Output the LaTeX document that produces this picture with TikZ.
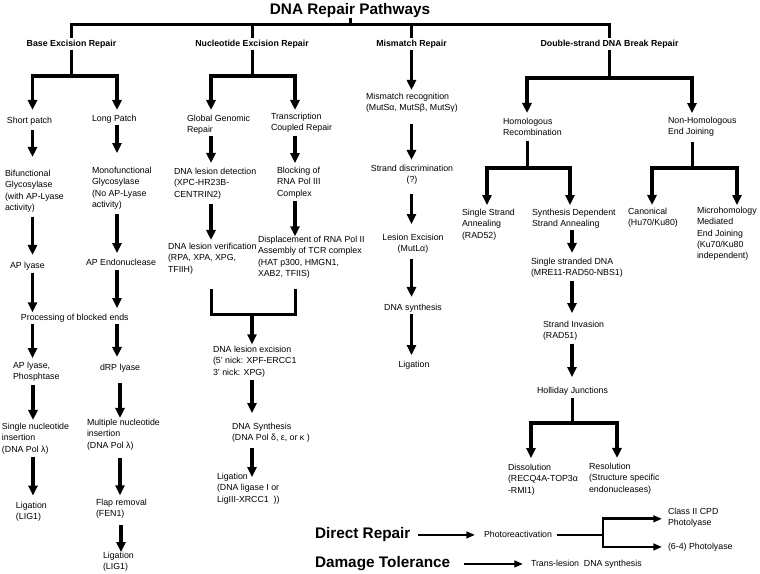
\documentclass[tikz,border=0pt]{standalone}
\usepackage{fontspec}
\setmainfont{Liberation Sans}
\usetikzlibrary{arrows.meta}
\newcommand\fsn{\fontsize{6.6}{8.45}\selectfont}
\newcommand\fsbig{\fontsize{11.5}{13}\selectfont\bfseries}
\begin{document}
\begin{tikzpicture}[x=0.75pt,y=-0.75pt,
  txt/.style={inner sep=0pt, outer sep=0pt, font=\fsn, execute at begin node=\strut, execute at end node=\strut},
  tl/.style={txt, align=left, anchor=north west, yshift=3.525pt},
  tc/.style={txt, align=center, anchor=north, yshift=3.525pt},
  cat/.style={tc, font=\fsn\bfseries},
  big/.style={inner sep=0pt, outer sep=0pt, font=\fsbig, anchor=base west},
  ln/.style={line width=2.25pt},
  arr/.style={line width=2.4pt, -{Triangle[width=6.8pt,length=7.5pt]}},
  ln2/.style={line width=2pt},
  arr2/.style={line width=2pt, -{Triangle[width=5pt,length=6.5pt]}},
]
\useasboundingbox (0,0) rectangle (760,574);

% columns
\coordinate (c32) at (32.5,0);
\coordinate (c33) at (33,0);
\coordinate (c117) at (117,0);
\coordinate (c120) at (120,0);
\coordinate (c121) at (121,0);
\coordinate (c210) at (211,0);
\coordinate (c252) at (252,0);
\coordinate (c295) at (295,0);
\coordinate (c411) at (411.5,0);
\coordinate (c487) at (487,0);
\coordinate (c527) at (527,0);
\coordinate (c570) at (570,0);
\coordinate (c572) at (572,0);
\coordinate (c531) at (531,0);
\coordinate (c617) at (617,0);
\coordinate (c652) at (652,0);
\coordinate (c692) at (692,0);
\coordinate (c737) at (737,0);
\coordinate (pj) at (603,0);

% title and top level
\node[big, anchor=base] (title) at (350,15) {DNA Repair Pathways};
\coordinate (tb) at (350,25);
\node[cat] (ber) at (71.5,43) {Base Excision Repair};
\node[cat] (ner) at (252,43) {Nucleotide Excision Repair};
\node[cat] (mmr) at (411.5,43) {Mismatch Repair};
\node[cat] (dsb) at (609.5,43) {Double-strand DNA Break Repair};
\draw[ln] (title.south) -- (tb);
\draw[ln] (ber.north) |- (tb) -| (dsb.north);
\draw[ln] (ner.north) -- (ner.north |- tb);
\draw[ln] (mmr.north) -- (mmr.north |- tb);

% ---------- Base excision repair ----------
\node[tl] (sp) at (7,120) {Short patch};
\node[tl] (lp) at (92,118) {Long Patch};
\node[tl] (bf) at (5,175) {Bifunctional\\Glycosylase\\(with AP-Lyase\\activity)};
\node[tl] (mf) at (92,172) {Monofunctional\\Glycosylase\\(No AP-Lyase\\activity)};
\node[tl] (apl) at (10,265) {AP lyase};
\node[tl] (ape) at (86,262) {AP Endonuclease};
\node[tl] (pbe) at (21,317) {Processing of blocked ends};
\node[tl] (app) at (13,367) {AP lyase,\\Phosphtase};
\node[tl] (drp) at (100,367) {dRP lyase};
\node[tl] (sni) at (2,428) {Single nucleotide\\insertion\\(DNA Pol λ)};
\node[tl] (mni) at (87,424) {Multiple nucleotide\\insertion\\(DNA Pol λ)};
\node[tl] (lg1) at (16,507) {Ligation\\(LIG1)};
\node[tl] (flp) at (96,504) {Flap removal\\(FEN1)};
\node[tl] (lg2) at (103,557) {Ligation\\(LIG1)};

\coordinate (berj) at (71.5,76);
\draw[ln] (ber.south) -- (berj);
\draw[arr, shorten >=4pt] (berj) -| (c32 |- sp.north);
\draw[arr, shorten >=2.5pt] (berj) -| (c117 |- lp.north);
\draw[arr, shorten <=2.55pt, shorten >=10pt] (c32 |- sp.south) -- (c32 |- bf.north);
\draw[arr, shorten <=0.3pt, shorten >=10.7pt] (c117 |- lp.south) -- (c117 |- mf.north);
\draw[arr, shorten <=2pt, shorten >=4pt] (c32 |- bf.south) -- (c32 |- apl.north);
\draw[arr, shorten <=2.7pt, shorten >=3.2pt] (c117 |- mf.south) -- (c117 |- ape.north);
\draw[arr, shorten <=1pt, shorten >=0pt] (c32 |- apl.south) -- (c32 |- pbe.north);
\draw[arr, shorten <=1pt, shorten >=3.2pt] (c117 |- ape.south) -- (c117 |- pbe.north);
\draw[arr, shorten <=0pt, shorten >=3.2pt] (c32 |- pbe.south) -- (c32 |- app.north);
\draw[arr, shorten <=0pt, shorten >=4pt] (c117 |- pbe.south) -- (c117 |- drp.north);
\draw[arr, shorten <=1.6pt, shorten >=2.5pt] (c33 |- app.south) -- (c33 |- sni.north);
\draw[arr, shorten <=7pt, shorten >=1pt] (c120 |- drp.south) -- (c120 |- mni.north);
\draw[arr, shorten <=0.75pt, shorten >=5pt] (c33 |- sni.south) -- (c33 |- lg1.north);
\draw[arr, shorten <=4.5pt, shorten >=3pt] (c120 |- mni.south) -- (c120 |- flp.north);
\draw[arr, shorten <=3.5pt, shorten >=0.2pt] (c121 |- flp.south) -- (c121 |- lg2.north);

% ---------- Nucleotide excision repair ----------
\node[tl] (ggr) at (187,120) {Global Genomic\\Repair};
\node[tl] (tcr) at (271,118) {Transcription\\Coupled Repair};
\node[tl] (dld) at (174,173) {DNA lesion detection\\(XPC-HR23B-\\CENTRIN2)};
\node[tl] (blk) at (277,172) {Blocking of\\RNA Pol III\\Complex};
\node[tl] (dlv) at (168,248) {DNA lesion verification\\(RPA, XPA, XPG,\\TFIIH)};
\node[tl] (dsp) at (258,241) {Displacement of RNA Pol II\\Assembly of TCR complex\\(HAT p300, HMGN1,\\XAB2, TFIIS)};
\node[tl] (dle) at (213,351) {DNA lesion excision\\(5' nick: XPF-ERCC1\\3' nick: XPG)};
\node[tl] (dsy) at (232,428) {DNA Synthesis\\(DNA Pol δ, ε, or κ\ )};
\node[tl] (lg3) at (217,478) {Ligation\\(DNA ligase I or\\LigIII-XRCC1\ \ ))};

\coordinate (nerj) at (252,76);
\coordinate (nerm) at (252,314);
\draw[ln] (ner.south) -- (nerj);
\draw[arr, shorten >=4pt] (nerj) -| (c210 |- ggr.north);
\draw[arr, shorten >=2.5pt] (nerj) -| (c295 |- tcr.north);
\draw[arr, shorten <=0pt, shorten >=4pt] (c210 |- ggr.south) -- (c210 |- dld.north);
\draw[arr, shorten <=0.9pt, shorten >=3.2pt] (c295 |- tcr.south) -- (c295 |- blk.north);
\draw[arr, shorten <=2.2pt, shorten >=2.5pt] (c210 |- dld.south) -- (c210 |- dlv.north);
\draw[arr, shorten <=1.4pt, shorten >=0pt] (c295 |- blk.south) -- (c295 |- dsp.north);
\draw[ln, shorten <=9.7pt] (c210 |- dlv.south) |- (nerm);
\draw[ln, shorten <=6.5pt] (c295 |- dsp.south) |- (nerm);
\draw[arr, shorten >=1.5pt] (nerm) -- (c252 |- dle.north);
\draw[arr, shorten <=0.75pt, shorten >=7.7pt] (c252 |- dle.south) -- (c252 |- dsy.north);
\draw[arr, shorten <=3.1pt, shorten >=-2.8pt] (c252 |- dsy.south) -- (c252 |- lg3.north);

% ---------- Mismatch repair ----------
\node[tl] (mr) at (366,98) {Mismatch recognition\\(MutSα, MutSβ, MutSγ)};
\node[tc] (sd) at (412,170) {Strand discrimination\\(?)};
\node[tc] (le) at (413,239) {Lesion Excision\\(MutLα)};
\node[tc] (ds) at (413,307) {DNA synthesis};
\node[tc] (lgm) at (414,364) {Ligation};
\draw[arr, shorten >=2.5pt] (mmr.south) -- (c411 |- mr.north);
\draw[arr, shorten <=7pt, shorten >=4pt] (c411 |- mr.south) -- (c411 |- sd.north);
\draw[arr, shorten <=6pt, shorten >=7.7pt] (c411 |- sd.south) -- (c411 |- le.north);
\draw[arr, shorten <=2.4pt, shorten >=4pt] (c411 |- le.south) -- (c411 |- ds.north);
\draw[arr, shorten <=0pt, shorten >=3.2pt] (c411 |- ds.south) -- (c411 |- lgm.north);

% ---------- Double-strand break repair ----------
\node[tl] (hr) at (503,123) {Homologous\\Recombination};
\node[tl] (nhej) at (668,122) {Non-Homologous\\End Joining};
\node[tl] (ssa) at (462,214) {Single Strand\\Annealing\\(RAD52)};
\node[tl] (sdsa) at (532,214) {Synthesis Dependent\\Strand Annealing};
\node[tl] (can) at (628,213) {Canonical\\(Hu70/Ku80)};
\node[tl] (mmej) at (697,212) {Microhomology\\Mediated\\End Joining\\(Ku70/Ku80\\independent)};
\node[tl] (ssd) at (531,263) {Single stranded DNA\\(MRE11-RAD50-NBS1)};
\node[tl] (si) at (543,326) {Strand Invasion\\(RAD51)};
\node[tc] (hj) at (572.5,390) {Holliday Junctions};
\node[tl] (dis) at (508,469) {Dissolution\\(RECQ4A-TOP3α\\-RMI1)};
\node[tl] (res) at (589,468) {Resolution\\(Structure specific\\endonucleases)};

\coordinate (dsbj) at (609.5,78);
\coordinate (hrj) at (527,168);
\coordinate (nhj) at (692,168);
\coordinate (hjj) at (572.5,423);
\draw[ln] (dsb.south) -- (dsbj);
\draw[arr, shorten >=4pt] (dsbj) -| (c527 |- hr.north);
\draw[arr, shorten >=3.2pt] (dsbj) -| (c692 |- nhej.north);
\draw[ln, shorten <=1.6pt] (c527 |- hr.south) -- (hrj);
\draw[arr, shorten >=3.2pt] (hrj) -| (c487 |- ssa.north);
\draw[arr, shorten >=3.2pt] (hrj) -| (c570 |- sdsa.north);
\draw[ln, shorten <=2.4pt] (c692 |- nhej.south) -- (nhj);
\draw[arr, shorten >=2.5pt] (nhj) -| (c652 |- can.north);
\draw[arr, shorten >=1.7pt] (nhj) -| (c737 |- mmej.north);
\draw[arr, shorten <=0.1pt, shorten >=4pt] (c572 |- sdsa.south) -- (c572 |- ssd.north);
\draw[arr, shorten <=0.9pt, shorten >=6.2pt] (c572 |- ssd.south) -- (c572 |- si.north);
\draw[arr, shorten <=0.9pt, shorten >=6.2pt] (c572 |- si.south) -- (c572 |- hj.north);
\draw[ln, shorten <=1pt] (hj.south) -- (hjj);
\draw[arr, shorten >=4.7pt] (hjj) -| (c531 |- dis.north);
\draw[arr, shorten >=4pt] (hjj) -| (c617 |- res.north);

% ---------- Direct repair / damage tolerance ----------
\node[big] (dr) at (315,538.5) {Direct Repair};
\node[big] (dtol) at (315,567.5) {Damage Tolerance};
\node[tl] (pr) at (484,534) {Photoreactivation};
\node[tl] (cls) at (668,513) {Class II CPD\\Photolyase};
\node[tl] (p64) at (668,546) {(6-4) Photolyase};
\node[tl] (tls) at (531,563) {Trans-lesion\ \ DNA synthesis};
\draw[arr2, shorten <=6pt, shorten >=6.75pt] (dr.east |- pr.west) -- (pr.west);
\draw[ln2, shorten <=3.75pt] (pr.east) -- (pj |- pr.east);
\draw[arr2, shorten >=4.5pt] (pj |- pr.east) |- (cls.west);
\draw[arr2, shorten >=4.5pt] (pj |- pr.east) |- (p64.west);
\draw[arr2, shorten <=10.5pt, shorten >=6pt] (dtol.east |- tls.west) -- (tls.west);
\end{tikzpicture}
\end{document}
